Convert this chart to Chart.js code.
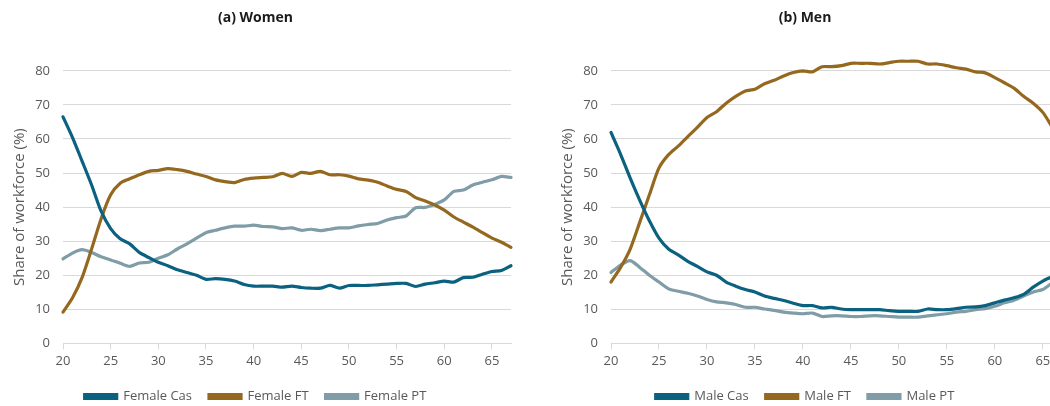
<!DOCTYPE html>
<html>
<head>
<meta charset="utf-8">
<script src="https://cdn.jsdelivr.net/npm/chart.js@4.4.1/dist/chart.umd.min.js"></script>
<style>
  html, body { margin: 0; padding: 0; background: #fff; }
  body { width: 1050px; height: 406px; overflow: hidden; position: relative; }
  .box { position: absolute; top: 0; height: 406px; }
  #boxW { left: 0; width: 522px; }
  #boxM { left: 548px; width: 525px; }
</style>
</head>
<body>
<div class="box" id="boxW"><canvas id="women"></canvas></div>
<div class="box" id="boxM"><canvas id="men"></canvas></div>
<script>
// ages (years) and share of workforce (%) by employment type
var womenAges = [20,21,22,23,24,25,26,27,28,29,30,31,32,33,34,35,36,37,38,39,40,41,42,43,44,45,46,47,48,49,50,51,52,53,54,55,56,57,58,59,60,61,62,63,64,65,66,67];
var femaleCas = [66.5,60.4,53.5,46.5,38.8,33.7,30.7,29.2,26.7,25.2,23.8,22.8,21.6,20.8,20.0,18.8,19.0,18.8,18.3,17.3,16.8,16.8,16.8,16.5,16.8,16.4,16.2,16.2,17.0,16.2,17.0,17.0,17.0,17.2,17.4,17.6,17.6,16.7,17.4,17.8,18.3,18.0,19.3,19.4,20.3,21.1,21.4,22.8];
var femaleFT  = [9.2,13.4,19.3,27.7,36.6,43.6,47.0,48.3,49.5,50.5,50.8,51.3,51.0,50.5,49.7,49.0,48.0,47.5,47.2,48.1,48.5,48.7,48.9,49.9,49.0,50.2,49.9,50.5,49.5,49.5,49.1,48.3,47.9,47.3,46.2,45.2,44.6,42.8,41.8,40.6,39.1,37.1,35.6,34.1,32.5,30.9,29.7,28.2];
var femalePT  = [24.8,26.5,27.5,26.7,25.4,24.5,23.5,22.6,23.6,23.8,25.0,26.0,27.7,29.2,30.9,32.5,33.2,33.9,34.4,34.4,34.7,34.3,34.2,33.7,33.9,33.2,33.5,33.1,33.5,33.9,33.9,34.5,34.9,35.2,36.2,36.9,37.4,39.8,39.9,40.8,42.1,44.6,45.0,46.5,47.3,48.0,49.0,48.7];

var menAges = [20,21,22,23,24,25,26,27,28,29,30,31,32,33,34,35,36,37,38,39,40,41,42,43,44,45,46,47,48,49,50,51,52,53,54,55,56,57,58,59,60,61,62,63,64,65,66];
var maleCas = [61.9,55.5,48.5,42.0,36.0,30.9,27.7,26.0,24.1,22.6,21.0,20.0,18.0,16.8,15.8,15.1,13.9,13.2,12.6,11.8,11.1,11.1,10.4,10.6,10.1,9.9,9.9,9.9,9.9,9.6,9.4,9.4,9.4,10.1,9.9,9.9,10.2,10.6,10.7,11.1,11.9,12.7,13.4,14.4,16.5,18.3,19.6];
var maleFT  = [18.0,22.3,27.7,35.6,43.6,51.5,55.4,57.9,60.7,63.4,66.3,68.0,70.5,72.5,74.1,74.6,76.2,77.2,78.5,79.5,80.0,79.7,81.2,81.2,81.5,82.2,82.2,82.2,82.0,82.4,82.8,82.8,82.8,82.0,82.0,81.5,80.9,80.5,79.7,79.4,78.0,76.5,74.9,72.5,70.5,67.8,63.4];
var malePT  = [20.8,23.0,24.3,22.3,20.0,18.0,16.0,15.3,14.7,13.9,12.9,12.2,11.9,11.4,10.6,10.6,10.1,9.7,9.2,8.9,8.7,8.9,7.9,8.1,8.1,7.9,7.9,8.1,8.1,7.9,7.7,7.7,7.7,8.1,8.4,8.7,9.2,9.4,9.9,10.2,10.9,11.9,12.7,13.9,15.1,15.8,17.8];

var yTicks = [0,10,20,30,40,50,60,70,80];

var casColor = '#0b6180';
var ftColor = '#94691f';
var ptColor = '#7f9ca7';
var greyText = '#595959';
var gridGrey = '#d9d9d9';

function pts(ages, vals) {
  return ages.map(function (a, i) { return { x: a, y: vals[i] }; });
}

function series(label, ages, vals, col) {
  return {
    label: label,
    data: pts(ages, vals),
    borderColor: col,
    backgroundColor: col,
    borderWidth: 3.2,
    pointRadius: 0,
    tension: 0.25,
    borderCapStyle: 'round',
    clip: false
  };
}

function makeChart(id, title, sets) {
  return new Chart(document.getElementById(id), {
    type: 'line',
    data: { datasets: sets },
    options: {
      responsive: true,
      maintainAspectRatio: false,
      animation: false,
      layout: { padding: { left: 0, right: 11, top: 0, bottom: -7 } },
      plugins: {
        title: {
          display: true,
          text: title,
          color: '#1a1a1a',
          font: { family: 'Open Sans', size: 14, weight: 'bold' },
          padding: { top: 10, bottom: 44 }
        },
        legend: {
          position: 'bottom',
          labels: {
            color: greyText,
            font: { family: 'Open Sans', size: 13 },
            boxWidth: 32,
            boxHeight: 4,
            padding: 17
          }
        },
        tooltip: { enabled: false }
      },
      scales: {
        x: {
          type: 'linear',
          min: 20,
          max: 67,
          border: { color: gridGrey, width: 1 },
          grid: { drawOnChartArea: false, drawTicks: true, tickLength: 6, color: gridGrey },
          ticks: {
            stepSize: 5,
            includeBounds: false,
            color: greyText,
            font: { family: 'Open Sans', size: 13 },
            padding: 4,
            maxRotation: 0
          }
        },
        y: {
          min: 0,
          max: 80,
          afterBuildTicks: function (ax) {
            ax.ticks = yTicks.map(function (v) { return { value: v }; });
          },
          afterFit: function (ax) { ax.width = 63; },
          border: { display: false },
          grid: { color: gridGrey, lineWidth: 1, drawTicks: false },
          ticks: {
            color: greyText,
            font: { family: 'Open Sans', size: 13 },
            padding: 13
          },
          title: {
            display: true,
            text: 'Share of workforce (%)',
            color: greyText,
            font: { family: 'Open Sans', size: 15 },
            padding: { top: 11, bottom: 0 }
          }
        }
      }
    }
  });
}

makeChart('women', '(a) Women', [
  series('Female Cas', womenAges, femaleCas, casColor),
  series('Female FT', womenAges, femaleFT, ftColor),
  series('Female PT', womenAges, femalePT, ptColor)
]);

makeChart('men', '(b) Men', [
  series('Male Cas', menAges, maleCas, casColor),
  series('Male FT', menAges, maleFT, ftColor),
  series('Male PT', menAges, malePT, ptColor)
]);
</script>
</body>
</html>
